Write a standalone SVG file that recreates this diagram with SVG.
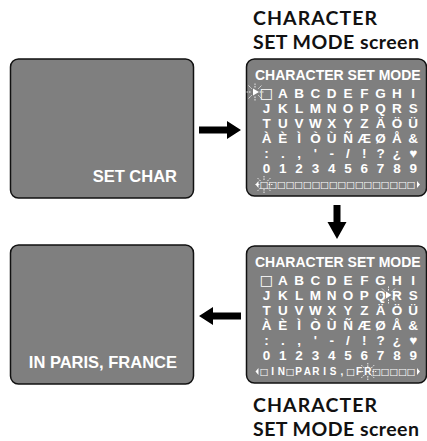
<svg xmlns="http://www.w3.org/2000/svg" xmlns:xlink="http://www.w3.org/1999/xlink" width="427" height="441" viewBox="0 0 427 441">
<style>
.scr{fill:#7f7f7f;stroke:#111;stroke-width:1.5}
.lbl{font-family:Lato,"Open Sans","Liberation Sans",sans-serif;font-weight:700;font-size:19.5px;fill:#111}
.cap{font-family:"Liberation Sans",Arial,sans-serif;font-weight:700;font-size:16.5px;fill:#fff}
.ttl{font-family:"Liberation Sans",Arial,sans-serif;font-weight:700;font-size:14px;fill:#fff}
.grd{font-family:"Liberation Sans","DejaVu Sans",sans-serif;font-weight:700;font-size:13.5px;fill:#fff;text-anchor:middle}
.slt{font-family:"Liberation Sans","DejaVu Sans",sans-serif;font-weight:700;font-size:10px;fill:#fff;text-anchor:middle}
.sq{font-family:"DejaVu Sans",sans-serif;font-weight:400}
.grd .sq{font-size:14.5px}
.slt .sq{font-size:9.5px}
.arr{fill:#000}
.ray{stroke:#fff;stroke-width:0.9;stroke-dasharray:1.6 1}
.tri{fill:#fff}
</style>
<defs>
<g id="spark">
<line class="ray" x1="4.5" y1="0" x2="8.5" y2="0"/>
<line class="ray" x1="-4.5" y1="0" x2="-8.5" y2="0"/>
<line class="ray" x1="0" y1="4.5" x2="0" y2="8.5"/>
<line class="ray" x1="0" y1="-4.5" x2="0" y2="-8.5"/>
<line class="ray" x1="3.4" y1="3.4" x2="6.4" y2="6.4"/>
<line class="ray" x1="-3.4" y1="3.4" x2="-6.4" y2="6.4"/>
<line class="ray" x1="3.4" y1="-3.4" x2="6.4" y2="-6.4"/>
<line class="ray" x1="-3.4" y1="-3.4" x2="-6.4" y2="-6.4"/>
</g>
</defs>

<g id="label-top">
<text class="lbl" x="253" y="25" textLength="124">CHARACTER</text>
<text class="lbl" x="253" y="48.5" textLength="166">SET MODE screen</text>
</g>

<g id="screen-set-char">
<rect class="scr" x="10.5" y="59" width="183" height="139" rx="8"/>
<text class="cap" x="177" y="182" text-anchor="end">SET CHAR</text>
</g>

<g id="screen-char-set-1">
<rect class="scr" x="246.5" y="59" width="180" height="137" rx="8"/>
<text class="ttl" x="255" y="80">CHARACTER SET MODE</text>
<text class="grd"><tspan class="sq" x="266.5" y="97.5">□</tspan><tspan x="282.8 299.1 315.4 331.7 348 364.3 380.6 396.9 413.2" y="97.5">ABCDEFGHI</tspan><tspan x="266.5 282.8 299.1 315.4 331.7 348 364.3 380.6 396.9 413.2" y="112.5">JKLMNOPQRS</tspan><tspan x="266.5 282.8 299.1 315.4 331.7 348 364.3 380.6 396.9 413.2" y="127.5">TUVWXYZÄÖÜ</tspan><tspan x="266.5 282.8 299.1 315.4 331.7 348 364.3 380.6 396.9 413.2" y="142.5">ÀÈÌÒÙÑÆØÅ&amp;</tspan><tspan x="266.5 282.8 299.1 315.4 331.7 348 364.3 380.6 396.9 413.2" y="157.5">:.,'-/!?¿♥</tspan><tspan x="266.5 282.8 299.1 315.4 331.7 348 364.3 380.6 396.9 413.2" y="172.5">0123456789</tspan></text>
<text class="slt" y="188"><tspan class="sq" x="264 272.65 281.3 289.95 298.6 307.25 315.9 324.55 333.2 341.85 350.5 359.15 367.8 376.45 385.1 393.75 402.4 411.05">□□□□□□□□□□□□□□□□□□</tspan></text>
<polygon class="tri" points="253,88.5 259,92 253,95.5"/>
<use xlink:href="#spark" x="255" y="92"/>
<polygon class="tri" points="258.5,181 255.5,184.5 258.5,188"/>
<polygon class="tri" points="417,181 420,184.5 417,188"/>
<use xlink:href="#spark" x="264" y="184.5"/>
</g>

<g id="screen-char-set-2">
<rect class="scr" x="246.5" y="246" width="180" height="137" rx="8"/>
<text class="ttl" x="255" y="267">CHARACTER SET MODE</text>
<text class="grd"><tspan class="sq" x="266.5" y="284.5">□</tspan><tspan x="282.8 299.1 315.4 331.7 348 364.3 380.6 396.9 413.2" y="284.5">ABCDEFGHI</tspan><tspan x="266.5 282.8 299.1 315.4 331.7 348 364.3 380.6 396.9 413.2" y="299.5">JKLMNOPQRS</tspan><tspan x="266.5 282.8 299.1 315.4 331.7 348 364.3 380.6 396.9 413.2" y="314.5">TUVWXYZÄÖÜ</tspan><tspan x="266.5 282.8 299.1 315.4 331.7 348 364.3 380.6 396.9 413.2" y="329.5">ÀÈÌÒÙÑÆØÅ&amp;</tspan><tspan x="266.5 282.8 299.1 315.4 331.7 348 364.3 380.6 396.9 413.2" y="344.5">:.,'-/!?¿♥</tspan><tspan x="266.5 282.8 299.1 315.4 331.7 348 364.3 380.6 396.9 413.2" y="359.5">0123456789</tspan></text>
<text class="slt" y="375"><tspan class="sq" x="264">□</tspan><tspan x="272.65 281.3">IN</tspan><tspan class="sq" x="289.95">□</tspan><tspan x="298.6 307.25 315.9 324.55 333.2 341.85">PARIS,</tspan><tspan class="sq" x="350.5">□</tspan><tspan x="359.15 367.8">FR</tspan><tspan class="sq" x="376.45 385.1 393.75 402.4 411.05">□□□□□</tspan></text>
<polygon class="tri" points="386,291.5 391.5,295 386,298.5"/>
<use xlink:href="#spark" x="388.5" y="295"/>
<polygon class="tri" points="258.5,368 255.5,371.5 258.5,375"/>
<polygon class="tri" points="417,368 420,371.5 417,375"/>
<use xlink:href="#spark" x="367.8" y="371.5"/>
</g>

<g id="screen-in-paris">
<rect class="scr" x="10.5" y="245" width="183" height="139" rx="8"/>
<text class="cap" x="177" y="368" text-anchor="end">IN PARIS, FRANCE</text>
</g>

<g id="label-bottom">
<text class="lbl" x="253" y="412" textLength="124">CHARACTER</text>
<text class="lbl" x="253" y="435.5" textLength="166">SET MODE screen</text>
</g>

<g id="connectors">
<polygon class="arr" points="199,126.5 227,126.5 227,121 241,130 227,139 227,133.5 199,133.5"/>
<polygon class="arr" points="333.5,205 340.5,205 340.5,222 346.5,222 337,239 327.5,222 333.5,222"/>
<polygon class="arr" points="241,312.5 213,312.5 213,307 199,316 213,325 213,319.5 241,319.5"/>
</g>
</svg>
